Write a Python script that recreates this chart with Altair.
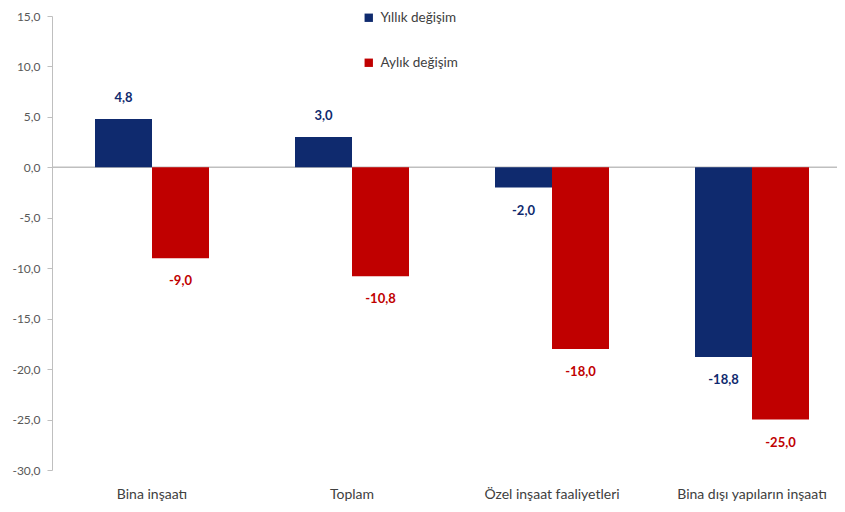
import altair as alt
import pandas as pd

categories = ["Bina inşaatı", "Toplam", "Özel inşaat faaliyetleri", "Bina dışı yapıların inşaatı"]
yillik = [4.8, 3.0, -2.0, -18.8]
aylik = [-9.0, -10.8, -18.0, -25.0]
series = ["Yıllık değişim", "Aylık değişim"]
colors = ["#0F2A6E", "#C00000"]
y_ticks = [15, 10, 5, 0, -5, -10, -15, -20, -25, -30]

rows = []
for c, a, b in zip(categories, yillik, aylik):
    rows.append({"kategori": c, "seri": series[0], "deger": a})
    rows.append({"kategori": c, "seri": series[1], "deger": b})
df = pd.DataFrame(rows)

FONT = "Lato"
FMT = "replace(replace(format({v}, '.1f'), '.', ','), '\u2212', '-')"

x = alt.X(
    "kategori:N", sort=categories,
    scale=alt.Scale(paddingInner=0.43, paddingOuter=0.215),
    axis=alt.Axis(title=None, labelAngle=0, domain=False, ticks=False, labelPadding=17,
                  labelFontSize=14, labelColor="#404040", labelFont=FONT),
)
xo = alt.XOffset("seri:N", sort=series, scale=alt.Scale(paddingInner=0, paddingOuter=0))
y = alt.Y(
    "deger:Q",
    scale=alt.Scale(domain=[-30, 15], nice=False, zero=False),
    axis=alt.Axis(values=y_ticks, labelExpr=FMT.format(v="datum.value"),
                  grid=False, title=None, domainColor="#BFBFBF", tickColor="#BFBFBF",
                  tickSize=5, labelPadding=7, labelFontSize=12, labelColor="#595959",
                  labelFont=FONT),
)
color = alt.Color(
    "seri:N", sort=series, scale=alt.Scale(domain=series, range=colors),
    legend=alt.Legend(orient="none", legendX=310, legendY=-5, title=None, symbolType="square",
                      symbolSize=70, labelFontSize=13.5, rowPadding=30, labelFont=FONT,
                      labelColor="#404040", symbolStrokeWidth=0, labelOffset=5),
)

base = alt.Chart(df)

zero_rule = alt.Chart(pd.DataFrame({"z": [0]})).mark_rule(color="#BFBFBF", strokeWidth=1.5).encode(
    y=alt.Y("z:Q")
)

bars = base.mark_bar().encode(x=x, xOffset=xo, y=y, y2=alt.datum(0), color=color)

lab = base.transform_calculate(etiket=FMT.format(v="datum.deger"))
pos_text = lab.transform_filter("datum.deger >= 0").mark_text(
    fontWeight="bold", fontSize=13, font=FONT, baseline="middle", dy=-21
).encode(x=x, xOffset=xo, y=alt.Y("deger:Q"), text="etiket:N",
         color=alt.Color("seri:N", legend=None))
neg_text = lab.transform_filter("datum.deger < 0").mark_text(
    fontWeight="bold", fontSize=13, font=FONT, baseline="middle", dy=23
).encode(x=x, xOffset=xo, y=alt.Y("deger:Q"), text="etiket:N",
         color=alt.Color("seri:N", legend=None))

chart = alt.layer(zero_rule, bars, pos_text, neg_text).properties(
    width=800, height=454,
    padding={"left": 44, "top": 8, "right": -15, "bottom": 34},
    autosize=alt.AutoSizeParams(type="none"),
).configure_view(stroke=None)

chart.save("out.html", embed_options={"renderer": "svg", "actions": False})
